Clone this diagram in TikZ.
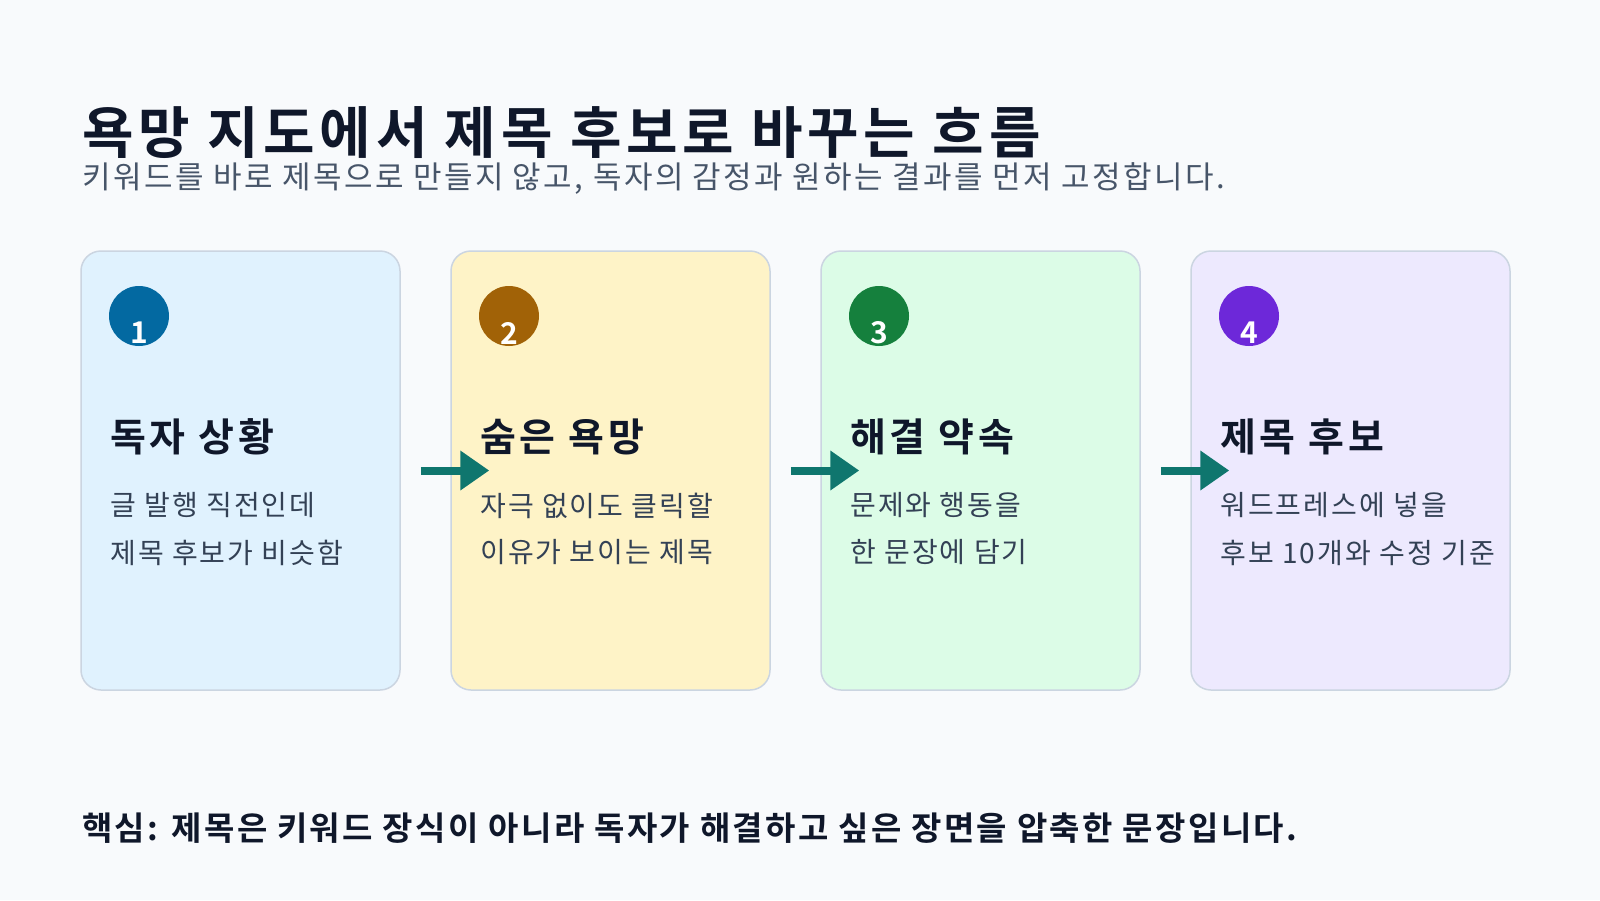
\documentclass[tikz,border=0pt]{standalone}
\usepackage{fontspec}
\setmainfont{Noto Sans CJK KR}[BoldFont={Noto Sans CJK KR Bold}]
\usetikzlibrary{arrows.meta}
\definecolor{bg}{HTML}{F8FAFC}
\definecolor{ink}{HTML}{0F172A}
\definecolor{sub}{HTML}{475569}
\definecolor{body}{HTML}{334155}
\definecolor{edge}{HTML}{CBD5E1}
\definecolor{teal}{HTML}{0F766E}
\definecolor{fillA}{HTML}{E0F2FE}
\definecolor{fillB}{HTML}{FEF3C7}
\definecolor{fillC}{HTML}{DCFCE7}
\definecolor{fillD}{HTML}{EDE9FE}
\definecolor{dotA}{HTML}{0369A1}
\definecolor{dotB}{HTML}{A16207}
\definecolor{dotC}{HTML}{15803D}
\definecolor{dotD}{HTML}{6D28D9}
\tikzset{
  card/.style={draw=edge, line width=1.5pt, rounded corners=20pt, minimum width=319pt, minimum height=439pt, inner sep=0pt},
  badge/.style={circle, minimum size=60pt, inner sep=0pt},
  num/.style={text=white, font=\bfseries\fontsize{30}{32}\selectfont, inner sep=0pt},
  headtxt/.style={anchor=west, inner sep=0pt, text=ink, font=\bfseries\fontsize{56}{60}\selectfont\addfontfeatures{LetterSpace=8.4}},
  subtxt/.style={anchor=west, inner sep=0pt, text=sub, font=\fontsize{31}{34}\selectfont\addfontfeatures{LetterSpace=8}},
  cardtitle/.style={anchor=west, inner sep=0pt, text=ink, font=\bfseries\fontsize{39}{40}\selectfont\addfontfeatures{LetterSpace=10}},
  cardbody/.style={anchor=west, inner sep=0pt, text=body, font=\fontsize{28}{30}\selectfont\addfontfeatures{LetterSpace=7.4}},
  foot/.style={anchor=west, inner sep=0pt, text=ink, font=\bfseries\fontsize{33}{36}\selectfont\addfontfeatures{LetterSpace=7.2}},
  flow/.style={draw=teal, line width=8pt, -{Triangle[length=29pt, width=38pt]}, shorten <=20pt, shorten >=-39pt}
}
\begin{document}
\begin{tikzpicture}[x=1pt,y=-1pt]
\fill[bg] (0,0) rectangle (1600,900);
\useasboundingbox (0,0) rectangle (1600,900);

\node[headtxt] (title) at (82,133) {욕망 지도에서 제목 후보로 바꾸는 흐름};
\node[subtxt] (subtitle) at (82,178) {키워드를 바로 제목으로 만들지 않고, 독자의 감정과 원하는 결과를 먼저 고정합니다.};

% cards
\node[card, fill=fillA] (c1) at (240.5,470.5) {};
\node[card, fill=fillB] (c2) at (610.5,470.5) {};
\node[card, fill=fillC] (c3) at (980.5,470.5) {};
\node[card, fill=fillD] (c4) at (1350.5,470.5) {};

% badges
\node[badge, fill=dotA] (b1) at (139,316) {};
\node[badge, fill=dotB] (b2) at (509,316) {};
\node[badge, fill=dotC] (b3) at (879,316) {};
\node[badge, fill=dotD] (b4) at (1249,316) {};
\node[num] (n1) at (139,333) {1};
\node[num] (n2) at (509,333) {2};
\node[num] (n3) at (879,333) {3};
\node[num] (n4) at (1249,333) {4};

% card titles
\node[cardtitle] (t1) at (110,436.5) {독자 상황};
\node[cardtitle] (t2) at (480,436.5) {숨은 욕망};
\node[cardtitle] (t3) at (850,436.5) {해결 약속};
\node[cardtitle] (t4) at (1220,436.5) {제목 후보};

% card bodies
\node[cardbody] (l1a) at (110,505.5) {글 발행 직전인데};
\node[cardbody] (l1b) at (110,552.5) {제목 후보가 비슷함};
\node[cardbody] (l2a) at (480,505.5) {자극 없이도 클릭할};
\node[cardbody] (l2b) at (480,552.5) {이유가 보이는 제목};
\node[cardbody] (l3a) at (850,505.5) {문제와 행동을};
\node[cardbody] (l3b) at (850,552.5) {한 문장에 담기};
\node[cardbody] (l4a) at (1220,505.5) {워드프레스에 넣을};
\node[cardbody] (l4b) at (1220,552.5) {후보 10개와 수정 기준};

% arrows
\draw[flow] (c1.east) -- (c2.west);
\draw[flow] (c2.east) -- (c3.west);
\draw[flow] (c3.east) -- (c4.west);

\node[foot] (key) at (82,828) {핵심: 제목은 키워드 장식이 아니라 독자가 해결하고 싶은 장면을 압축한 문장입니다.};
\end{tikzpicture}
\end{document}
